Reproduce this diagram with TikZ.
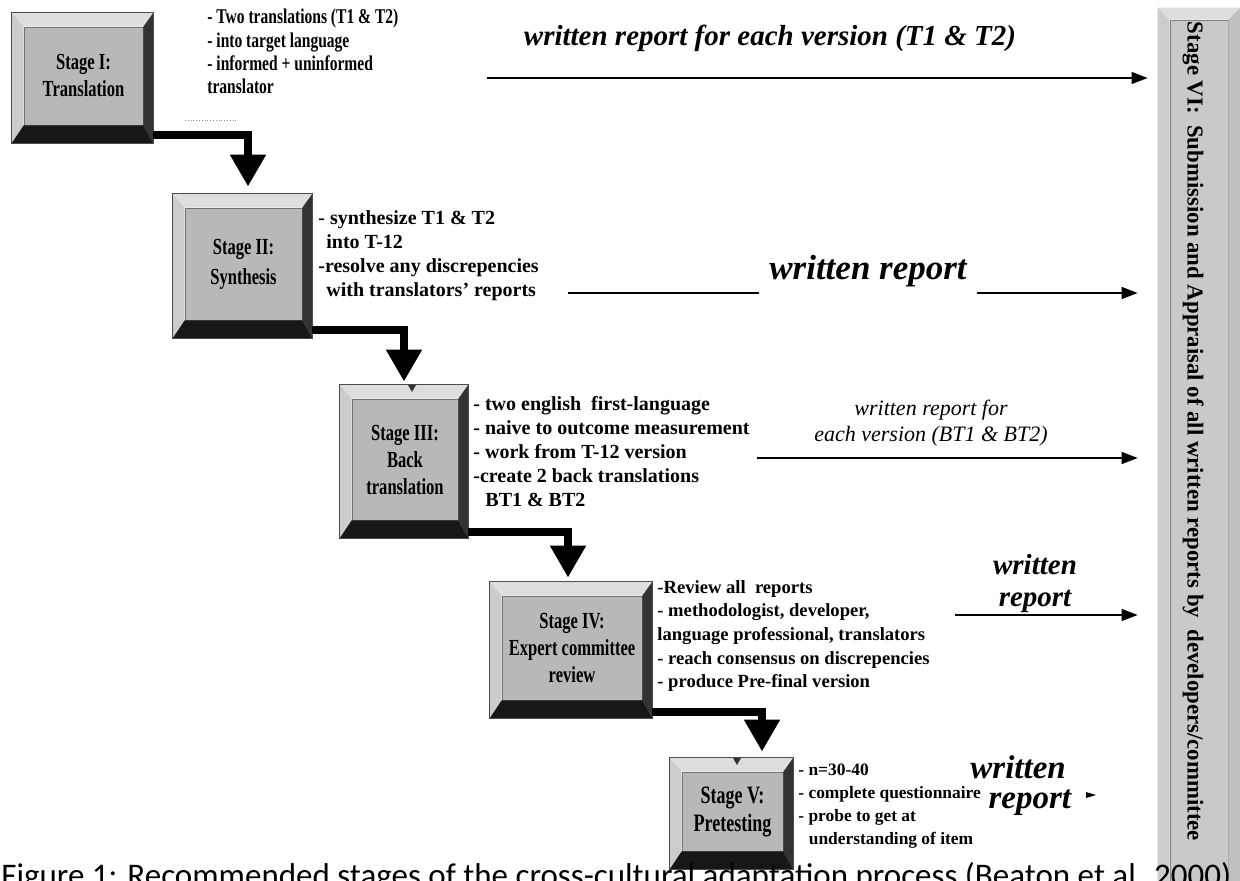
\documentclass[tikz,border=0pt]{standalone}
\usepackage{fontspec}
\setmainfont{Liberation Serif}
\newfontfamily\narrowfont[FakeStretch=0.72]{Liberation Serif}
\newfontfamily\slimfont[FakeStretch=0.74]{Liberation Serif}
\newfontfamily\capfont{Carlito}
\usetikzlibrary{arrows.meta,calc}

\definecolor{face}{gray}{0.72}
\definecolor{facesix}{gray}{0.79}
\definecolor{bevtop}{gray}{0.87}
\definecolor{bevleft}{gray}{0.80}
\definecolor{bevright}{gray}{0.20}
\definecolor{bevbottom}{gray}{0.09}

% bevelled frame round a stage node
\newcommand{\bevel}[1]{%
  \fill[bevtop] (#1.north west) -- ($(#1.north west)+(-12,-14)$) -- ($(#1.north east)+(10,-14)$) -- (#1.north east) -- cycle;
  \fill[bevleft] (#1.north west) -- ($(#1.north west)+(-12,-14)$) -- ($(#1.south west)+(-12,18)$) -- (#1.south west) -- cycle;
  \fill[bevright] (#1.north east) -- ($(#1.north east)+(10,-14)$) -- ($(#1.south east)+(10,18)$) -- (#1.south east) -- cycle;
  \fill[bevbottom] (#1.south west) -- ($(#1.south west)+(-12,18)$) -- ($(#1.south east)+(10,18)$) -- (#1.south east) -- cycle;
  \draw[black!70, line width=0.4pt] ($(#1.north west)+(-12,-14)$) rectangle ($(#1.south east)+(10,18)$);
}

\begin{document}
\begin{tikzpicture}[
    x=0.5pt, y=-0.5pt,
    stage/.style={draw=black!55, fill=face, align=center, inner sep=0pt,
                  font=\narrowfont\bfseries\fontsize{11.5}{13.5}\selectfont},
    desc/.style={anchor=north west, align=left, inner sep=0pt,
                 font=\bfseries\fontsize{10}{12}\selectfont},
    report/.style={align=center, inner sep=3pt},
    flow/.style={line width=4pt, -{Triangle[width=17pt,length=16pt]}},
    feed/.style={line width=0.7pt},
    feedtip/.style={feed, -{Triangle[width=6pt,length=8pt]}},
  ]
  \useasboundingbox (0,0) rectangle (1240,881);
  % stages
  \node[stage, minimum width=59.5pt, minimum height=49pt] (I)   at (83.5,76)    {Stage I:\\Translation};
  \node[stage, minimum width=58.5pt, minimum height=56pt, font=\narrowfont\bfseries\fontsize{11.5}{15}\selectfont] (II) at (243.5,264) {Stage II:\\Synthesis};
  \node[stage, minimum width=53pt, minimum height=60.5pt] (III) at (405,459.5)  {Stage III:\\Back\\translation};
  \node[stage, minimum width=70pt, minimum height=52pt]   (IV)  at (572,648)    {Stage IV:\\Expert committee\\review};
  \node[stage, minimum width=50.5pt, minimum height=39.5pt, font=\narrowfont\bfseries\fontsize{12.5}{14}\selectfont] (V) at (732.5,811.5) {Stage V:\\Pretesting};
  \foreach \s in {I,II,III,IV,V} {\bevel{\s}}
  % small marks on the tops
  \fill[black!80] (408,385) -- (416,385) -- (412,392) -- cycle;
  \fill[black!80] (733,758) -- (741,758) -- (737,765) -- cycle;

  % stage VI (right column)
  \node[draw=black!50, fill=facesix, minimum width=29pt, minimum height=440pt, inner sep=0pt] (VI) at (1199,460) {};
  \fill[bevleft] (VI.north west) -- ++(-12,-12) -- ($(VI.south west)+(-12,0)$) -- (VI.south west) -- cycle;
  \fill[bevtop] (VI.north west) -- ++(-12,-12) -- ($(VI.north east)+(12,-12)$) -- (VI.north east) -- cycle;
  \fill[black!25] (VI.north east) -- ++(12,-12) -- ($(VI.south east)+(12,0)$) -- (VI.south east) -- cycle;
  \node[rotate=-90, anchor=west, inner sep=0pt, font=\bfseries\fontsize{11.4}{14}\selectfont] (VItext)
    at ([xshift=-3pt,yshift=-1pt]VI.north) {Stage VI:\ \ Submission and Appraisal of all written reports by\ \ developers/committee};

  % what each stage does
  \node[desc, font=\slimfont\bfseries\fontsize{10.5}{11.6}\selectfont] (dI) at (207,9) {- Two translations (T1 \& T2)\\- into target language\\- informed + uninformed\\translator};
  \node[desc] (dII) at (318,210) {- synthesize T1 \& T2\\\hspace*{0.4em}into T-12\\-resolve any discrepencies\\\hspace*{0.4em}with translators' reports};
  \node[desc] (dIII) at (473,396) {- two english\ \ first-language\\- naive to outcome measurement\\- work from T-12 version\\-create 2 back translations\\\hspace*{0.6em}BT1 \& BT2};
  \node[desc, font=\bfseries\fontsize{9.3}{11.8}\selectfont] (dIV) at (657,580) {-Review all\ \ reports\\- methodologist, developer,\\language professional, translators\\- reach consensus on discrepencies\\- produce Pre-final version};
  \node[desc, font=\bfseries\fontsize{8.7}{11.4}\selectfont] (dV) at (798,764) {- n=30-40\\- complete questionnaire\\- probe to get at\\\hspace*{0.6em}understanding of item};
  \draw[black!45, densely dotted] (185,120) -- (238,120);

  % stage to stage
  \draw[flow] ($(I.south east)+(10,10)$) -| ($(II.north)+(4.5,-21)$);
  \draw[flow] ($(II.south east)+(10,10)$) -| ($(III.north)+(-1,-17)$);
  \draw[flow] ($(III.south east)+(10,12)$) -| ($(IV.north)+(-4,-18)$);
  \draw[flow] ($(IV.south east)+(10,12)$) -| ($(V.north)+(29.5,-20)$);

  % written reports to stage VI
  \node[report, font=\bfseries\itshape\fontsize{14.5}{17}\selectfont] (r1) at (770,38) {written report for each version (T1 \& T2)};
  \node[report, inner xsep=5pt, font=\bfseries\itshape\fontsize{17.5}{20}\selectfont] (r2) at (868,271) {written report};
  \node[report, font=\itshape\fontsize{11}{13}\selectfont] (r3) at (931,423) {written report for\\each version (BT1 \& BT2)};
  \node[report, font=\bfseries\itshape\fontsize{14.5}{16}\selectfont] (r4) at (1035,584) {written\\report};
  \node[report, anchor=west, align=left, inner sep=0pt, font=\bfseries\itshape\fontsize{16.5}{15}\selectfont] (r5) at (970,786) {written\\\hspace*{0.55em}report};
  \coordinate (a1) at (487,78);
  \coordinate (a2) at (568,293);
  \coordinate (a3) at (757,458);
  \coordinate (a4) at (955,615);
  \draw[feedtip, shorten >=11pt] (a1) -- (a1 -| VI.west);
  \draw[feed] (a2) -- (a2 -| r2.west);
  \draw[feedtip, shorten >=16pt] (a2 -| r2.east) -- (a2 -| VI.west);
  \draw[feedtip, shorten >=16pt] (a3) -- (a3 -| VI.west);
  \draw[feedtip, shorten >=16pt] (a4) -- (a4 -| VI.west);
  \fill (1086,792) -- (1096,795) -- (1086,798) -- cycle;

  % caption, cut by the page edge
  \node[anchor=base west, inner sep=0pt, font=\capfont\fontsize{16.5}{19}\selectfont] (cap) at (1,886)
    {Figure 1: Recommended stages of the cross-cultural adaptation process (Beaton et al. 2000)};
\end{tikzpicture}
\end{document}
